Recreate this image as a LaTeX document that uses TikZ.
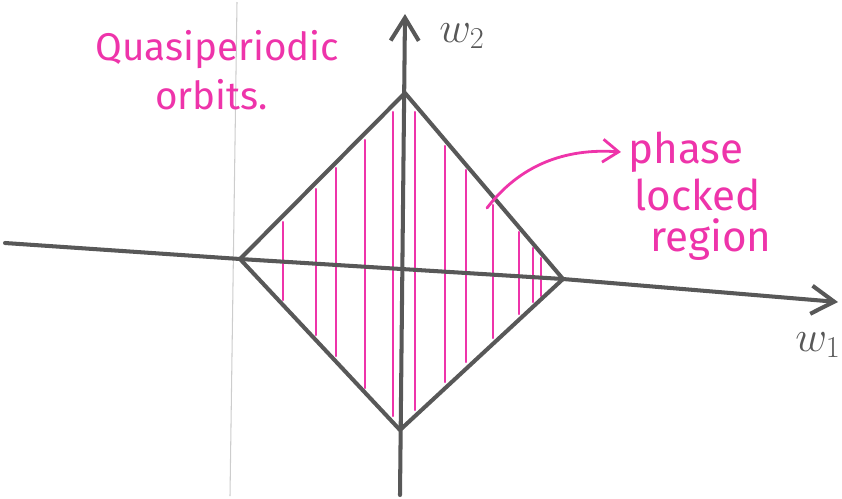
\documentclass[tikz,border=0pt]{standalone}
\usepackage{fontspec}
\newfontfamily\handfont{Fira Sans}
\usetikzlibrary{arrows.meta,positioning}
\definecolor{PenGrey}{RGB}{88,88,88}
\definecolor{FaintGrey}{RGB}{205,205,205}
\definecolor{HotMagenta}{RGB}{238,52,170}
\tikzset{
  axis/.style={PenGrey, line width=2.3pt, line cap=round, line join=round,
    -{Straight Barb[length=13pt,width=16pt,line width=2.3pt]}},
  edge/.style={PenGrey, line width=2.3pt, line cap=round, line join=round},
  hatch/.style={HotMagenta, line width=1.2pt, line cap=round},
  note/.style={HotMagenta, font=\handfont\fontsize{22}{26}\selectfont,
    inner sep=0pt, anchor=west},
  bignote/.style={note, font=\handfont\fontsize{24}{28}\selectfont},
  axislabel/.style={PenGrey, font=\fontsize{24}{28}\selectfont, inner sep=0pt},
  pointer/.style={HotMagenta, line width=1.6pt, line cap=round,
    -{Straight Barb[length=9pt,width=13pt,line width=1.6pt]}}
}

\begin{document}
\begin{tikzpicture}[x=0.02cm, y=-0.02cm]
  \useasboundingbox (0,0) rectangle (842,498);

  % corners of the diamond
  \coordinate (top) at (405,93);
  \coordinate (left) at (240,259);
  \coordinate (right) at (563,279);
  \coordinate (bottom) at (400,430);

  % axis ends
  \coordinate (xstart) at (5,243);
  \coordinate (xend) at (838,302);
  \coordinate (ystart) at (400,495);
  \coordinate (yend) at (405,14);

  % faint pencil line
  \draw[FaintGrey, line width=0.6pt] (237,2) -- (230,496);

  % hatching of the locked region
  \foreach \x/\a/\b in {283/222/300, 316/189/335, 336/168/356, 365/140/388,
    393/112/416, 415/112/410, 445/146/382, 466/170/362, 493/205/338,
    519/232/314, 533/248/302, 541/258/296}
    \draw[hatch] (\x,\a) -- (\x,\b);

  \draw[edge] (top) -- (left) -- (bottom) -- (right) -- cycle;
  \draw[edge] (xstart) -- (left) -- (right);
  \draw[axis] (right) -- (xend);
  \draw[axis] (ystart) -- (yend);

  \node[axislabel] (wtwo) at (462,36) {$w_2$};
  \node[axislabel] (wone) at (818,345) {$w_1$};

  \node[note] (quasi) at (95,50) {Quasiperiodic};
  \node[note] (orbits) at (155,95) {orbits.};

  \node[bignote] (phase) at (628,152) {phase};
  \node[bignote] (locked) at (634,195) {locked};
  \node[bignote] (region) at (650,240) {region};

  \coordinate (inside) at (487,208);
  \draw[pointer] (inside) .. controls (520,165) and (565,148) .. ([xshift=-4pt]phase.west);
\end{tikzpicture}
\end{document}
